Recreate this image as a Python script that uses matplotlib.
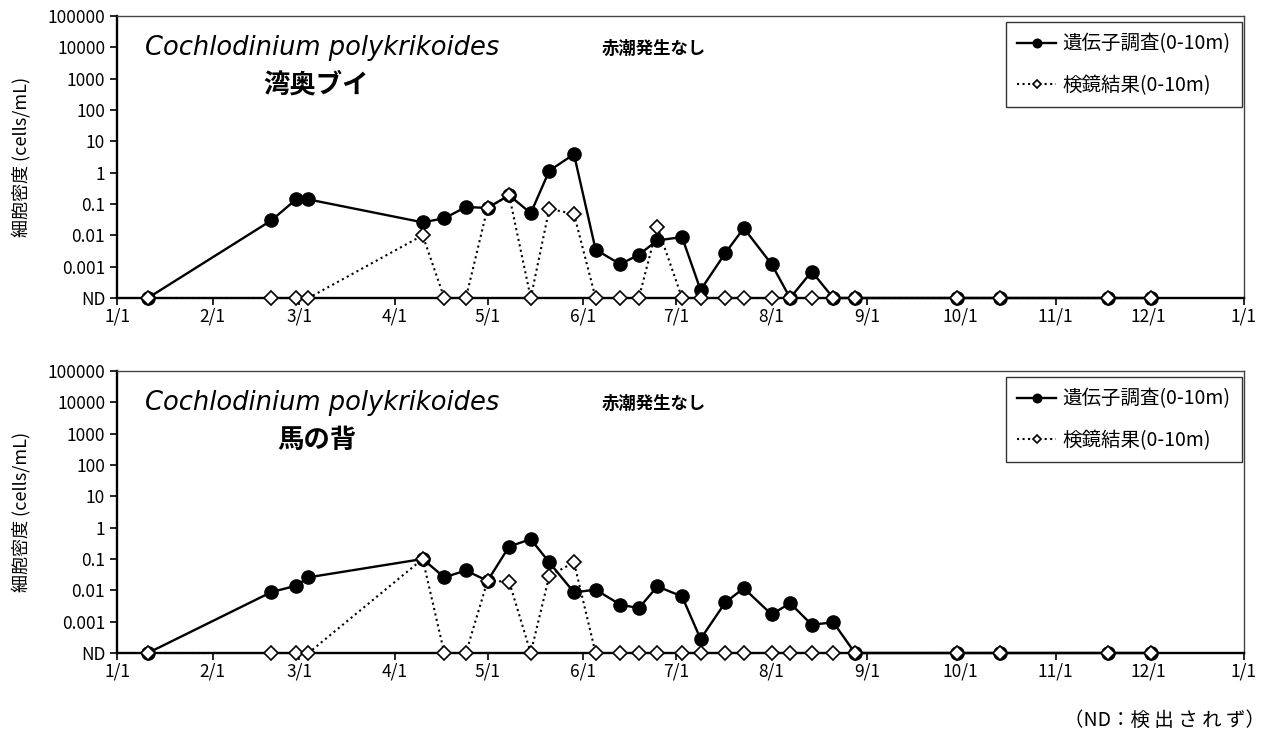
import numpy as np
import pandas as pd
import matplotlib
matplotlib.use("Agg")
import matplotlib.pyplot as plt
import matplotlib.dates as mdates
from matplotlib.ticker import FixedLocator, FixedFormatter, FuncFormatter

plt.rcParams['font.family'] = ['Noto Sans CJK JP', 'DejaVu Sans']

# sampling dates (same for both stations); 0 = not detected (ND)
dates = ["01-11", "02-20", "02-28", "03-04", "04-10", "04-17", "04-24", "05-01",
         "05-08", "05-15", "05-21", "05-29", "06-05", "06-13", "06-19", "06-25",
         "07-03", "07-09", "07-17", "07-23", "08-01", "08-07", "08-14", "08-21",
         "08-28", "09-30", "10-14", "11-18", "12-02"]

# 湾奥ブイ
gene_wanou = [0, 0.03, 0.14, 0.14, 0.026, 0.035, 0.08, 0.075,
              0.19, 0.051, 1.15, 3.9, 0.0035, 0.0012, 0.0024, 0.0069,
              0.0088, 0.00018, 0.0027, 0.017, 0.0012, 0, 0.0007, 0,
              0, 0, 0, 0, 0]
scope_wanou = [0, 0, 0, 0, 0.01, 0, 0, 0.075,
               0.19, 0, 0.07, 0.048, 0, 0, 0, 0.019,
               0, 0, 0, 0, 0, 0, 0, 0,
               0, 0, 0, 0, 0]

# 馬の背
gene_umanose = [0, 0.0088, 0.014, 0.026, 0.1, 0.026, 0.043, 0.02,
                0.25, 0.43, 0.078, 0.0086, 0.0105, 0.0035, 0.0027, 0.0133,
                0.0064, 0.00028, 0.0041, 0.0117, 0.0017, 0.0039, 0.0008, 0.00095,
                0, 0, 0, 0, 0]
scope_umanose = [0, 0, 0, 0, 0.1, 0, 0, 0.02,
                 0.019, 0, 0.029, 0.078, 0, 0, 0, 0,
                 0, 0, 0, 0, 0, 0, 0, 0,
                 0, 0, 0, 0, 0]

y_ticks = [1e-4, 1e-3, 1e-2, 1e-1, 1, 10, 100, 1000, 10000, 100000]
y_labels = ["ND", "0.001", "0.01", "0.1", "1", "10", "100", "1000", "10000", "100000"]
ND_LEVEL = y_ticks[0]

YEAR = 2015
x = pd.to_datetime([f"{YEAR}-{d}" for d in dates])


def nd(vals):
    v = np.asarray(vals, dtype=float)
    return np.where(v > 0, v, ND_LEVEL)


fig = plt.figure(figsize=(12.71, 7.43), dpi=100)
ax_top = fig.add_axes([117 / 1271, 1 - 298 / 743, 1127 / 1271, 282 / 743])
ax_bot = fig.add_axes([117 / 1271, 1 - 653 / 743, 1127 / 1271, 282 / 743])

panels = [
    (ax_top, gene_wanou, scope_wanou, "湾奥ブイ"),
    (ax_bot, gene_umanose, scope_umanose, "馬の背"),
]

for ax, gene, scope, station in panels:
    ax.plot(x, nd(gene), "-", color="black", lw=1.7, marker="o", ms=9.5,
            mfc="black", mec="black", label="遺伝子調査(0-10m)",
            zorder=3, clip_on=False)
    ax.plot(x, nd(scope), ":", color="black", lw=1.5, marker="D", ms=6.8,
            mfc="white", mec="black", mew=1.2, label="検鏡結果(0-10m)",
            zorder=4, clip_on=False)

    ax.set_yscale("log")
    ax.set_ylim(ND_LEVEL, 1e5)
    ax.yaxis.set_major_locator(FixedLocator(y_ticks))
    ax.yaxis.set_major_formatter(FixedFormatter(y_labels))
    ax.yaxis.set_minor_locator(FixedLocator([]))

    ax.set_xlim(pd.Timestamp(f"{YEAR}-01-01"), pd.Timestamp(f"{YEAR + 1}-01-01"))
    ax.xaxis.set_major_locator(mdates.MonthLocator(bymonthday=1))
    ax.xaxis.set_major_formatter(FuncFormatter(
        lambda v, pos: f"{mdates.num2date(v).month}/{mdates.num2date(v).day}"))

    ax.tick_params(axis="both", direction="out", length=5, width=1.2,
                   labelsize=12.5, colors="black")
    ax.tick_params(axis="x", pad=2)
    for side in ("left", "bottom"):
        ax.spines[side].set_linewidth(1.7)
    for side in ("top", "right"):
        ax.spines[side].set_linewidth(1.0)
        ax.spines[side].set_color("#444444")

    ax.set_ylabel("細胞密度 (cells/mL)", fontsize=13, labelpad=12)

    ax.text(0.025, 0.885, "Cochlodinium polykrikoides", transform=ax.transAxes,
            fontsize=18.5, style="italic", family=["DejaVu Sans"], va="center", ha="left")
    ax.text(0.177, 0.755, station, transform=ax.transAxes,
            fontsize=19, fontweight="bold", va="center", ha="center")
    ax.text(0.43, 0.885, "赤潮発生なし", transform=ax.transAxes,
            fontsize=12.5, fontweight="bold", va="center", ha="left")

    leg = ax.legend(loc="upper right", bbox_to_anchor=(0.998, 0.98),
                    fontsize=14, frameon=True, fancybox=False, edgecolor="black",
                    handlelength=2.0, handletextpad=0.3, labelspacing=1.05,
                    markerscale=0.65, borderpad=0.6, borderaxespad=0.0)
    leg.get_frame().set_linewidth(1.0)

fig.text(0.995, 0.03, "（ND：検 出 さ れ ず）", ha="right", va="center", fontsize=14)

fig.savefig("out.png", dpi=100)
